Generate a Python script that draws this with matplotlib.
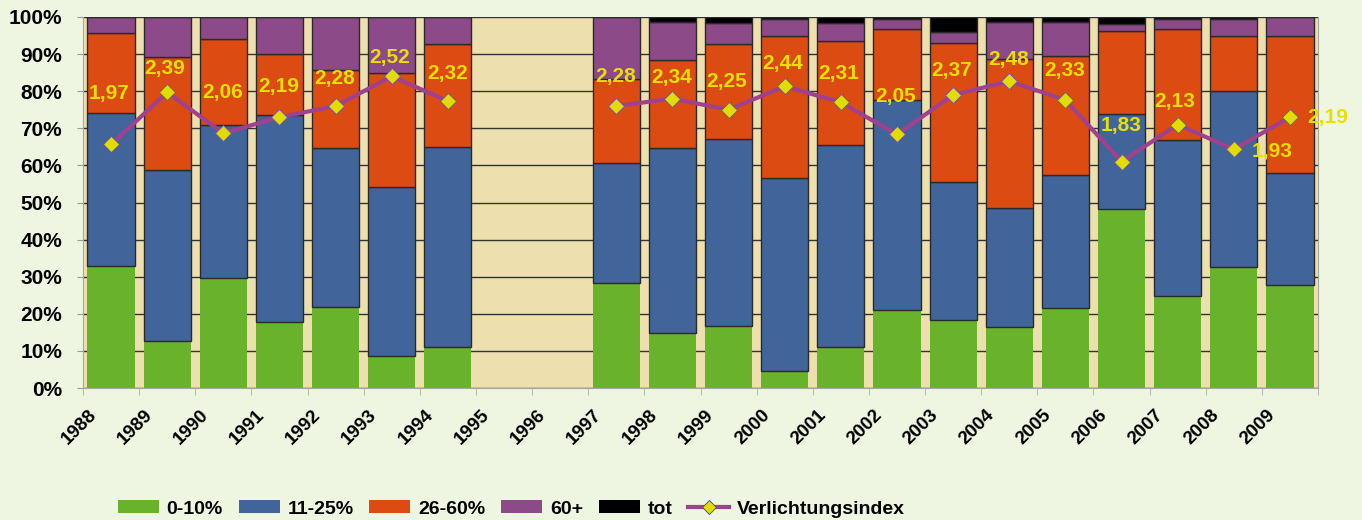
""" Verlichtingsindex stacked bar chart with Matplotlib """

# Imports
import matplotlib.pyplot as plt
import numpy as np
from matplotlib.patches import Patch
from matplotlib.lines import Line2D
from matplotlib.transforms import ScaledTranslation

plt.rcParams["font.family"] = ["Liberation Sans", "DejaVu Sans"]
plt.rcParams["font.weight"] = "bold"

# Data (percent of trees per class; 1995 and 1996 missing)
years = [str(y) for y in range(1988, 2010)]
share_0_10 = [33.0, 12.7, 29.6, 17.9, 21.8, 8.6, 11.1, np.nan, np.nan, 28.3, 14.8,
              16.6, 4.7, 11.1, 20.9, 18.4, 16.4, 21.6, 48.2, 24.7, 32.6, 27.8]
share_11_25 = [41.1, 46.1, 41.2, 55.6, 42.8, 45.5, 53.8, np.nan, np.nan, 32.3, 49.9,
               50.5, 51.9, 54.5, 56.8, 37.0, 32.2, 35.9, 25.7, 42.1, 47.5, 30.1]
share_26_60 = [21.6, 30.4, 23.3, 16.6, 21.2, 30.8, 27.8, np.nan, np.nan, 22.7, 23.8,
               25.6, 38.2, 27.8, 19.1, 37.6, 40.1, 31.9, 22.4, 30.0, 14.9, 37.1]
share_60_plus = [4.3, 10.8, 5.9, 9.9, 14.2, 15.1, 7.3, np.nan, np.nan, 16.7, 10.2,
                 5.7, 4.7, 5.0, 2.7, 2.9, 10.0, 9.3, 1.7, 2.7, 4.5, 5.0]
share_tot = [0, 0, 0, 0, 0, 0, 0, np.nan, np.nan, 0, 1.3,
             1.6, 0.5, 1.6, 0.5, 4.1, 1.3, 1.3, 2.0, 0.5, 0.5, 0]
index = [1.97, 2.39, 2.06, 2.19, 2.28, 2.52, 2.32, np.nan, np.nan, 2.28, 2.34,
         2.25, 2.44, 2.31, 2.05, 2.37, 2.48, 2.33, 1.83, 2.13, 1.93, 2.19]
class_labels = ["0-10%", "11-25%", "26-60%", "60+", "tot"]

# Styling
colors = ["#69B22B", "#41649B", "#DB4B12", "#8C4A88", "#000000"]
line_color = "#A0418F"
marker_color = "#E2DC00"
label_color = "#E8E000"
# label offsets (px) relative to each diamond
label_offsets = [(-2, 51), (-3, 24), (-1, 41), (-1, 31), (-1, 28), (-2, 19), (0, 28),
                 (0, 0), (0, 0), (-1, 30), (-1, 21), (-2, 28), (-2, 23), (-2, 29),
                 (-1, 38), (-2, 24), (-1, 22), (-1, 29), (0, 36), (-3, 23),
                 (38, -2), (38, 0)]

fig = plt.figure(figsize=(13.62, 5.2), dpi=100, facecolor="#EEF5E1")
ax = fig.add_axes([83 / 1362, 132 / 520, 1235 / 1362, 371 / 520])
ax.set_facecolor("#EDE0AE")

x = np.arange(len(years))
bottom = np.zeros(len(years))
for vals, col, lab in zip([share_0_10, share_11_25, share_26_60, share_60_plus, share_tot],
                          colors, class_labels):
    vals = np.array(vals, dtype=float)
    edge = "none" if lab == "0-10%" else "#2A2A2A"
    ax.bar(x, vals, bottom=bottom, width=0.84, color=col, edgecolor=edge,
           linewidth=1.0, zorder=2)
    bottom = bottom + vals

# Axes styling
ax.set_xlim(-0.5, len(years) - 0.5)
ax.set_ylim(0, 100)
ax.set_yticks(range(0, 101, 10))
ax.set_yticklabels([f"{v}%" for v in range(0, 101, 10)], fontsize=15, fontweight="bold")
ax.set_axisbelow(True)
ax.yaxis.grid(True, color="#333333", linewidth=1.0)
ax.tick_params(axis="y", length=4, color="#999999", pad=11)

ax.set_xticks(x)
ax.set_xticklabels(years, rotation=45, ha="center", va="center",
                   rotation_mode="anchor", fontsize=13.5, fontweight="bold")
ax.set_xticks(np.arange(-0.5, len(years)), minor=True)
ax.tick_params(axis="x", which="major", length=0, pad=28)
ax.tick_params(axis="x", which="minor", length=5, color="#AAAAAA")
shift = ScaledTranslation(-32 / 100, 0, fig.dpi_scale_trans)
for lbl in ax.get_xticklabels():
    lbl.set_transform(lbl.get_transform() + shift)

for side in ["left", "bottom", "right"]:
    ax.spines[side].set_color("#A8A8A0")
ax.spines["top"].set_visible(False)

# Verlichtungsindex on hidden secondary axis
ax2 = ax.twinx()
ax2.set_ylim(0, 3)
ax2.axis("off")
ax2.plot(x, index, color=line_color, linewidth=3, marker="D", markersize=8,
         markerfacecolor=marker_color, markeredgecolor="#6A5AA0",
         markeredgewidth=0.6, zorder=3)
for xi, v, (dx, dy) in zip(x, index, label_offsets):
    if np.isnan(v):
        continue
    ax2.annotate(f"{v:.2f}".replace(".", ","), (xi, v), xytext=(dx * 0.72, dy * 0.72),
                 textcoords="offset points", ha="center", va="center",
                 color=label_color, fontsize=15, fontweight="bold", zorder=4)

# Legend
handles = [Patch(facecolor=c, edgecolor="none") for c in colors]
handles.append(Line2D([0], [0], color=line_color, linewidth=3, marker="D",
                      markersize=7, markerfacecolor=marker_color,
                      markeredgecolor="#4040A0", markeredgewidth=0.6))
fig.legend(handles, class_labels + ["Verlichtungsindex"], loc="center left",
           bbox_to_anchor=(118 / 1362, 1 - 509 / 520), ncol=6, frameon=False,
           prop={"size": 14, "weight": "bold"}, handlelength=2.1, handleheight=0.65,
           handletextpad=0.4, columnspacing=0.82, borderpad=0, borderaxespad=0)

plt.savefig("out.png", dpi=100, facecolor=fig.get_facecolor())
